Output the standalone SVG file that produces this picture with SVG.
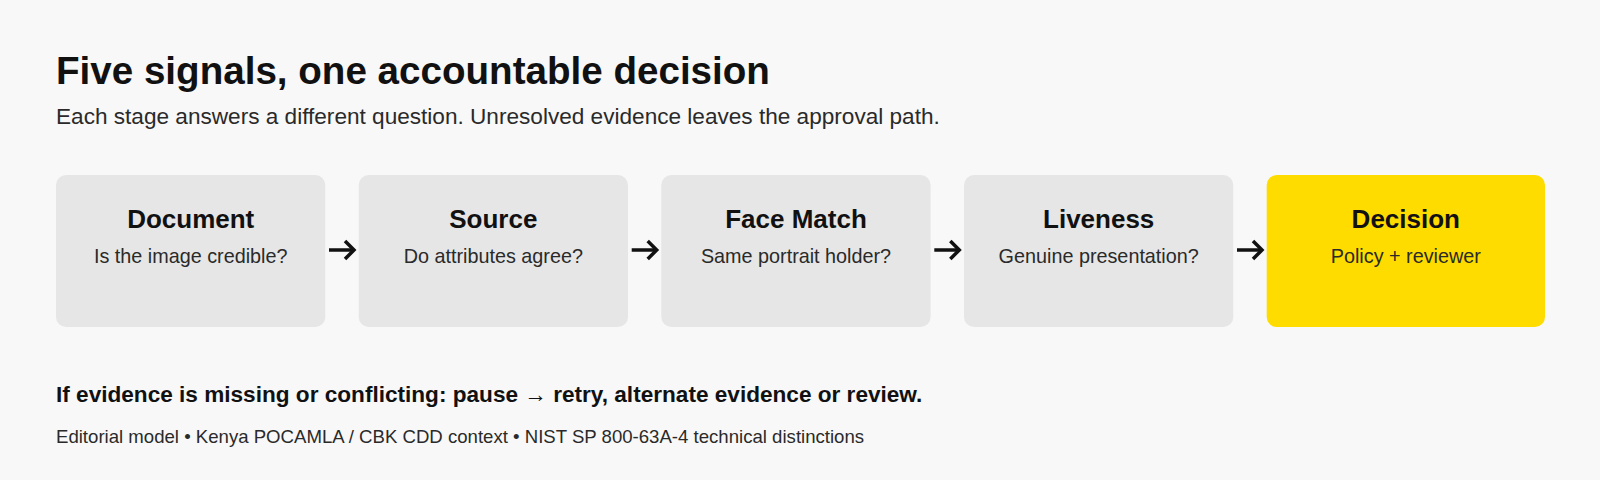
<svg xmlns="http://www.w3.org/2000/svg" width="1600" height="480" viewBox="0 0 1600 480">
  <defs>
    <style>
      .bg { fill: #f8f8f8; }
      .box { fill: #e6e6e6; }
      .box.final { fill: #ffdc00; }
      .t { font-family: "Liberation Sans", Arial, sans-serif; }
      .title { font-size: 38.6px; font-weight: bold; fill: #111111; }
      .sub { font-size: 22.6px; fill: #2a2a2a; }
      .ntitle { font-size: 26px; font-weight: bold; fill: #111111; text-anchor: middle; }
      .nsub { font-size: 19.8px; fill: #2a2a2a; text-anchor: middle; }
      .note { font-size: 22.6px; font-weight: bold; fill: #111111; }
      .foot { font-size: 18.6px; fill: #2a2a2a; }
      .conn { stroke: #111111; stroke-width: 3.5; fill: none; stroke-linecap: butt; }
    </style>
    <marker id="arrow" markerUnits="userSpaceOnUse" markerWidth="16" markerHeight="24" refX="13" refY="12" orient="auto" viewBox="0 0 16 24">
      <path d="M4,3 L13,12 L4,21" fill="none" stroke="#111111" stroke-width="3.5" stroke-linejoin="miter"/>
    </marker>
  </defs>
  <rect class="bg" x="0" y="0" width="1600" height="480"/>

  <text class="t title" x="56" y="84">Five signals, one accountable decision</text>
  <text class="t sub" x="56" y="124">Each stage answers a different question. Unresolved evidence leaves the approval path.</text>

  <g id="node-document">
    <rect class="box" x="56" y="175" width="269.3" height="152" rx="10"/>
    <text class="t ntitle" x="190.7" y="228">Document</text>
    <text class="t nsub" x="190.7" y="263">Is the image credible?</text>
  </g>
  <g id="node-source">
    <rect class="box" x="358.7" y="175" width="269.3" height="152" rx="10"/>
    <text class="t ntitle" x="493.3" y="228">Source</text>
    <text class="t nsub" x="493.3" y="263">Do attributes agree?</text>
  </g>
  <g id="node-facematch">
    <rect class="box" x="661.3" y="175" width="269.3" height="152" rx="10"/>
    <text class="t ntitle" x="796" y="228">Face Match</text>
    <text class="t nsub" x="796" y="263">Same portrait holder?</text>
  </g>
  <g id="node-liveness">
    <rect class="box" x="964" y="175" width="269.3" height="152" rx="10"/>
    <text class="t ntitle" x="1098.7" y="228">Liveness</text>
    <text class="t nsub" x="1098.7" y="263">Genuine presentation?</text>
  </g>
  <g id="node-decision">
    <rect class="box final" x="1266.7" y="175" width="278.3" height="152" rx="10"/>
    <text class="t ntitle" x="1405.8" y="228">Decision</text>
    <text class="t nsub" x="1405.8" y="263">Policy + reviewer</text>
  </g>

  <g id="connectors">
    <path class="conn" d="M329,250 L354,250" marker-end="url(#arrow)"/>
    <path class="conn" d="M631.7,250 L656.7,250" marker-end="url(#arrow)"/>
    <path class="conn" d="M934.3,250 L959.3,250" marker-end="url(#arrow)"/>
    <path class="conn" d="M1237,250 L1262,250" marker-end="url(#arrow)"/>
  </g>

  <text class="t note" x="56" y="402">If evidence is missing or conflicting: pause → retry, alternate evidence or review.</text>
  <text class="t foot" x="56" y="443">Editorial model • Kenya POCAMLA / CBK CDD context • NIST SP 800-63A-4 technical distinctions</text>
</svg>
